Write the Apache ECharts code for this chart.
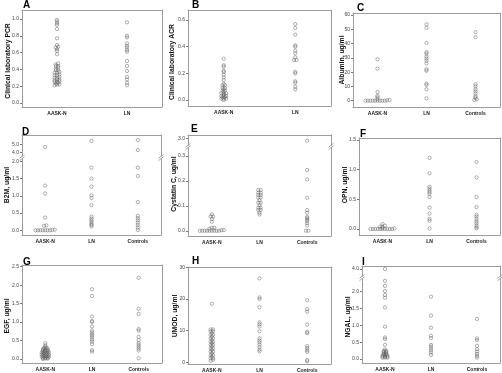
<!DOCTYPE html>
<html>
<head>
<meta charset="utf-8">
<script src="https://cdn.jsdelivr.net/npm/echarts@6/dist/echarts.min.js"></script>
<style>
html, body { margin: 0; padding: 0; background: #fff; }
#chart { width: 502px; height: 373px; }
</style>
</head>
<body>
<div id="chart"></div>
<script>
// group names
const groups2 = ['AASK-N', 'LN'];
const groups3 = ['AASK-N', 'LN', 'Controls'];

// A - clinical laboratory PCR
const pcrAaskN = [0.99, 0.97, 0.95, 0.93, 0.88, 0.77, 0.69, 0.67, 0.66, 0.64, 0.62, 0.58, 0.47, 0.46, 0.44, 0.44,
    0.42, 0.41, 0.39, 0.39, 0.37, 0.36, 0.36, 0.34, 0.33, 0.33, 0.31, 0.30, 0.30, 0.28, 0.28, 0.27, 0.26, 0.25,
    0.25, 0.24, 0.23, 0.22, 0.22, 0.21];
const pcrLn = [0.96, 0.80, 0.78, 0.71, 0.68, 0.66, 0.63, 0.61, 0.50, 0.44, 0.38, 0.31, 0.28, 0.24, 0.21];
const pcrTicks = [0, 0.2, 0.4, 0.6, 0.8, 1.0];

// B - clinical laboratory ACR
const acrAaskN = [0.31, 0.26, 0.25, 0.22, 0.21, 0.19, 0.17, 0.15, 0.12, 0.11, 0.11, 0.09, 0.09, 0.08, 0.07, 0.07,
    0.06, 0.05, 0.05, 0.05, 0.04, 0.03, 0.03, 0.03, 0.02, 0.02, 0.01, 0.01, 0.01, 0.0];
const acrLn = [0.57, 0.54, 0.49, 0.41, 0.40, 0.37, 0.35, 0.32, 0.30, 0.30, 0.21, 0.20, 0.14, 0.13, 0.10, 0.08];
const acrTicks = [0, 0.2, 0.4, 0.6];

// C - albumin
const albAaskN = [29, 22.5, 6.1, 3.5, 2.4, 1.2, 0.5, 0.3, 0, 0, 0, 0, 0, 0, 0, 0, 0];
const albLn = [53.5, 51, 40.5, 34, 33, 31, 29.5, 28, 26, 22, 21, 12, 11, 8, 1.7];
const albControls = [48, 44.5, 11.5, 10, 8, 6.5, 5, 3, 2, 1, 0.5];
const albTicks = [0, 10, 20, 30, 40, 50, 60];

// D - B2M (broken axis)
const b2mAaskN = [4.7, 1.3, 1.07, 0.37, 0.14, 0.13, 0.02, 0.01, 0, 0, 0, 0, 0, 0, 0];
const b2mLn = [5.5, 1.82, 1.5, 1.27, 1.02, 0.94, 0.73, 0.40, 0.34, 0.29, 0.24, 0.19, 0.15, 0.11];
const b2mControls = [5.6, 4.3, 1.82, 1.58, 0.82, 0.42, 0.35, 0.29, 0.22, 0.15, 0.08, 0.01];
const b2mTicks = [0, 0.5, 1.0, 1.5, 2.0];
const b2mTicksHigh = [4.0, 5.0];

// E - cystatin C (broken axis)
const cysAaskN = [0.066, 0.057, 0.057, 0.047, 0.036, 0.012, 0.012, 0.008, 0.003, 0.002, 0, 0, 0, 0, 0, 0, 0, 0, 0];
const cysLn = [0.163, 0.163, 0.152, 0.152, 0.143, 0.143, 0.133, 0.133, 0.122, 0.112, 0.112, 0.102, 0.092, 0.092,
    0.083, 0.083, 0.072, 0.065];
const cysControls = [2.6, 0.243, 0.205, 0.132, 0.083, 0.072, 0.055, 0.05, 0.045, 0.04, 0.03, 0.021, 0, 0];
const cysTicks = [0, 0.1, 0.2, 0.3];
const cysTicksHigh = [2.5, 3.0];

// F - OPN
const opnAaskN = [0.085, 0.056, 0.04, 0.04, 0.022, 0.01, 0, 0, 0, 0, 0, 0, 0, 0, 0, 0];
const opnLn = [1.2, 0.94, 0.71, 0.68, 0.65, 0.62, 0.59, 0.54, 0.36, 0.26, 0.17, 0.14, 0.01];
const opnControls = [1.13, 0.87, 0.54, 0.37, 0.24, 0.21, 0.17, 0.13, 0.10, 0.06, 0.03, 0.01];
const opnTicks = [0, 0.5, 1.0, 1.5];

// G - EGF
const egfAaskN = [0.43, 0.37, 0.33, 0.30, 0.30, 0.27, 0.27, 0.27, 0.24, 0.24, 0.24, 0.21, 0.21, 0.21, 0.18, 0.18,
    0.18, 0.18, 0.15, 0.15, 0.15, 0.12, 0.12, 0.12, 0.12, 0.09, 0.09, 0.09, 0.06, 0.06, 0.06, 0.06, 0.03, 0.03,
    0.03, 0.01, 0.01, 0];
const egfLn = [1.89, 1.71, 1.15, 1.03, 1.0, 0.88, 0.77, 0.72, 0.67, 0.63, 0.58, 0.52, 0.47, 0.40, 0.24, 0.20];
const egfControls = [2.2, 1.36, 1.22, 0.81, 0.77, 0.60, 0.51, 0.43, 0.38, 0.33, 0.28, 0.23, 0.02];
const egfTicks = [0, 0.5, 1.0, 1.5, 2.0, 2.5];

// H - UMOD
const umodAaskN = [18.5, 10.4, 10.4, 9.8, 9.8, 9.2, 8.7, 8.7, 8.1, 7.6, 7.6, 7.0, 6.5, 6.5, 6.0, 5.5, 5.5, 5.0,
    4.4, 4.4, 3.9, 3.4, 3.4, 2.8, 2.3, 2.3, 1.8, 1.3, 1.3, 0.8, 0.5];
const umodLn = [26.5, 20.5, 20.0, 17.4, 12.6, 12.0, 11.3, 9.8, 7.6, 6.9, 6.3, 5.6, 4.8, 4.0, 3.5];
const umodControls = [19.6, 16.8, 16.0, 11.9, 9.6, 9.2, 5.1, 4.5, 3.8, 3.3, 0.7, 0.3];
const umodTicks = [0, 10, 20, 30];

// I - NGAL (broken axis)
const ngalAaskN = [4.0, 2.32, 2.17, 2.02, 1.9, 1.82, 1.53, 0.96, 0.64, 0.59, 0.42, 0.28, 0.24, 0.24, 0.21, 0.21,
    0.17, 0.17, 0.14, 0.14, 0.11, 0.11, 0.11, 0.07, 0.07, 0.07, 0.04, 0.04, 0.04];
const ngalLn = [1.85, 1.29, 0.93, 0.69, 0.62, 0.42, 0.37, 0.31, 0.25, 0.19, 0.12];
const ngalControls = [1.19, 0.61, 0.56, 0.39, 0.29, 0.22, 0.15, 0.09, 0.04];
const ngalTicks = [0, 0.5, 1.0, 1.5, 2.0];
const ngalTicksHigh = [4.0];

const FRAME = '#9c9c9c';
const FONT = '"Liberation Sans", Arial, sans-serif';

// layout of the nine panels; parts[0] is the lower (main) piece, parts[1] the piece above the break
const panels = [
    { letter: 'A', letterPos: [23, 0], name: 'Clinical laboratory PCR', namePos: [8.5, 61],
        cats: groups2, values: [pcrAaskN, pcrLn], digits: 1,
        parts: [{ box: [22, 10, 162, 107], min: -0.048, max: 1.107, ticks: pcrTicks }] },
    { letter: 'B', letterPos: [192, 0], name: 'Clinical laboratory ACR', namePos: [172.5, 62],
        cats: groups2, values: [acrAaskN, acrLn], digits: 1,
        parts: [{ box: [188, 10, 331, 106], min: -0.045, max: 0.675, ticks: acrTicks }] },
    { letter: 'C', letterPos: [357, 3], name: 'Albumin, ug/ml', namePos: [342, 60],
        cats: groups3, values: [albAaskN, albLn, albControls], digits: 0,
        parts: [{ box: [353, 13, 500, 107], min: -4.4, max: 61.4, ticks: albTicks }] },
    { letter: 'D', letterPos: [22, 127], name: 'B2M, ug/ml', namePos: [7.5, 185],
        cats: groups3, values: [b2mAaskN, b2mLn, b2mControls], digits: 1, split: 3,
        parts: [{ box: [22, 158.5, 161, 235], min: -0.137, max: 2.087, ticks: b2mTicks },
            { box: [22, 135, 161, 156.5], min: 3.45, max: 6.28, ticks: b2mTicksHigh }] },
    { letter: 'E', letterPos: [191, 124], name: 'Cystatin C, ug/ml', namePos: [174.5, 184],
        cats: groups3, values: [cysAaskN, cysLn, cysControls], digits: 1, split: 1,
        parts: [{ box: [188, 147.5, 331, 236], min: -0.021, max: 0.333, ticks: cysTicks },
            { box: [188, 135, 331, 145.5], min: 1.69, max: 3.71, ticks: cysTicksHigh }] },
    { letter: 'F', letterPos: [360, 129], name: 'OPN, ug/ml', namePos: [345, 185],
        cats: groups3, values: [opnAaskN, opnLn, opnControls], digits: 1,
        parts: [{ box: [359, 138, 500, 235], min: -0.101, max: 1.534, ticks: opnTicks }] },
    { letter: 'G', letterPos: [23, 257], name: 'EGF, ug/ml', namePos: [7.5, 316],
        cats: groups3, values: [egfAaskN, egfLn, egfControls], digits: 1,
        parts: [{ box: [22, 265, 162, 363], min: -0.108, max: 2.546, ticks: egfTicks }] },
    { letter: 'H', letterPos: [192, 256], name: 'UMOD, ug/ml', namePos: [175, 316],
        cats: groups3, values: [umodAaskN, umodLn, umodControls], digits: 0,
        parts: [{ box: [188, 267, 331, 364], min: -0.53, max: 30.1, ticks: umodTicks }] },
    { letter: 'I', letterPos: [362, 257], name: 'NGAL, ug/ml', namePos: [348, 317],
        cats: groups3, values: [ngalAaskN, ngalLn, ngalControls], digits: 1, split: 3,
        parts: [{ box: [362, 278.5, 500, 363], min: -0.119, max: 2.39, ticks: ngalTicks },
            { box: [362, 266, 500, 276.5], min: 3.06, max: 4.375, ticks: ngalTicksHigh }] },
];

// put nearly equal values side by side, like the dot plot in the original
function swarm(vals, thr, step) {
    const sorted = vals.slice().sort((a, b) => a - b);
    const out = [];
    let row = [];
    const flush = () => {
        row.forEach((v, i) => out.push({ v: v, dx: (i - (row.length - 1) / 2) * step }));
        row = [];
    };
    sorted.forEach(v => {
        if (row.length && v - row[0] > thr) flush();
        row.push(v);
    });
    flush();
    return out;
}

const grid = [], xAxis = [], yAxis = [], series = [], graphic = [];

function breakMark(x, y) {
    [-1.2, 1.2].forEach(d => {
        graphic.push({
            type: 'line', silent: true,
            shape: { x1: x - 2.5, y1: y + d + 2, x2: x + 2.5, y2: y + d - 2 },
            style: { stroke: '#8a8a8a', lineWidth: 0.8 }
        });
    });
}

panels.forEach(p => {
    const n = p.parts.length;
    p.parts.forEach((part, k) => {
        const isBottom = k === 0, isTop = k === n - 1;
        const gi = grid.length;
        const [x0, y0, x1, y1] = part.box;
        grid.push({ left: x0, top: y0, width: x1 - x0, height: y1 - y0 });

        let xi = null;
        if (isBottom) {
            xi = xAxis.length;
            xAxis.push({
                type: 'category', gridIndex: gi, position: 'bottom', data: p.cats,
                axisLine: { onZero: false, lineStyle: { color: FRAME, width: 1 } },
                axisTick: { length: 2, lineStyle: { color: FRAME } },
                axisLabel: { fontSize: 5, fontWeight: 'bold', color: '#222', fontFamily: FONT, margin: 4 }
            });
        }
        if (isTop) {
            const ti = xAxis.length;
            xAxis.push({
                type: 'category', gridIndex: gi, position: 'top', data: p.cats,
                axisLine: { onZero: false, lineStyle: { color: FRAME, width: 1 } },
                axisTick: { show: false }, axisLabel: { show: false }
            });
            if (xi === null) xi = ti;
        }

        const yi = yAxis.length;
        yAxis.push({
            type: 'value', gridIndex: gi, position: 'left', min: part.min, max: part.max,
            splitLine: { show: false },
            axisLine: { show: true, onZero: false, lineStyle: { color: FRAME, width: 1 } },
            axisTick: { show: true, length: 2, customValues: part.ticks, lineStyle: { color: '#777' } },
            axisLabel: {
                customValues: part.ticks, fontSize: 5, color: '#444', margin: 3, fontFamily: FONT,
                formatter: v => Number(v).toFixed(p.digits)
            }
        });
        yAxis.push({
            type: 'value', gridIndex: gi, position: 'right', min: part.min, max: part.max,
            splitLine: { show: false },
            axisLine: { show: true, onZero: false, lineStyle: { color: FRAME, width: 1 } },
            axisTick: { show: false }, axisLabel: { show: false }
        });

        const thr = (part.max - part.min) / (y1 - y0); // one pixel in data units
        p.values.forEach((vals, ci) => {
            const own = vals.filter(v => n === 1 || (k === 0 ? v < p.split : v >= p.split));
            const pts = swarm(own, thr, 2.4).map(d => ({ value: [ci, d.v], symbolOffset: [d.dx, 0] }));
            series.push({
                type: 'scatter', xAxisIndex: xi, yAxisIndex: yi, data: pts,
                symbol: 'circle', symbolSize: 3.3, silent: true,
                itemStyle: { color: 'rgba(255,255,255,0)', borderColor: '#5a5a5a', borderWidth: 0.6 }
            });
        });
    });

    if (n > 1) {
        const joinY = (p.parts[0].box[1] + p.parts[1].box[3]) / 2;
        breakMark(p.parts[0].box[0], joinY);
        breakMark(p.parts[0].box[2], joinY);
    }

    graphic.push({
        type: 'text', x: p.letterPos[0], y: p.letterPos[1], silent: true,
        style: { text: p.letter, font: 'bold 10px ' + FONT, fill: '#000', textVerticalAlign: 'top', verticalAlign: 'top' }
    });
    graphic.push({
        type: 'text', x: p.namePos[0], y: p.namePos[1], rotation: Math.PI / 2, silent: true,
        style: {
            text: p.name, font: 'bold 6.8px ' + FONT, fill: '#111',
            textAlign: 'center', align: 'center', textVerticalAlign: 'middle', verticalAlign: 'middle'
        }
    });
});

const myChart = echarts.init(document.getElementById('chart'));
myChart.setOption({
    animation: false,
    backgroundColor: '#fff',
    grid: grid,
    xAxis: xAxis,
    yAxis: yAxis,
    series: series,
    graphic: graphic
});
</script>
</body>
</html>
